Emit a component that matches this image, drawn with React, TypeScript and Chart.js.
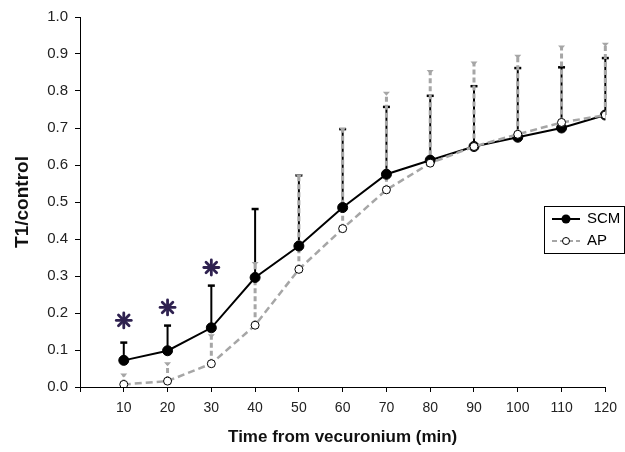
import React, { useEffect, useRef } from "react";
import { Chart, registerables } from "chart.js";

Chart.register(...registerables);

const times = [10, 20, 30, 40, 50, 60, 70, 80, 90, 100, 110, 120];
const scmMean = [0.072, 0.098, 0.16, 0.296, 0.381, 0.485, 0.575, 0.613, 0.65, 0.675, 0.7, 0.735];
const scmUpper = [0.12, 0.166, 0.274, 0.481, 0.572, 0.697, 0.757, 0.787, 0.813, 0.862, 0.864, 0.889];
const apMean = [0.007, 0.016, 0.063, 0.167, 0.318, 0.428, 0.533, 0.605, 0.65, 0.683, 0.715, 0.735];
const apUpper = [0.034, 0.064, 0.14, 0.335, 0.572, 0.698, 0.795, 0.854, 0.877, 0.895, 0.92, 0.928];
const asteriskTimes = [10, 20, 30];
const asteriskLevels = [0.18, 0.215, 0.323];
const seriesLabels = ["SCM", "AP"];

const FONT = "'Liberation Sans', Arial, sans-serif";
const GRAY = "#a6a6a6";
const STAR = "#2f2250";

const errorBarPlugin = {
  id: "errorBars",
  beforeDatasetsDraw(chart: any) {
    const { ctx, scales } = chart;
    const xs = scales.x;
    const ys = scales.y;
    ctx.save();
    ctx.strokeStyle = "#000";
    ctx.setLineDash([]);
    times.forEach((t, i) => {
      const x = xs.getPixelForValue(t);
      const y0 = ys.getPixelForValue(scmMean[i]);
      const y1 = ys.getPixelForValue(scmUpper[i]);
      ctx.lineWidth = 2;
      ctx.beginPath();
      ctx.moveTo(x, y0);
      ctx.lineTo(x, y1);
      ctx.stroke();
      ctx.lineWidth = 2.5;
      ctx.beginPath();
      ctx.moveTo(x - 3.5, y1);
      ctx.lineTo(x + 3.5, y1);
      ctx.stroke();
    });
    ctx.strokeStyle = GRAY;
    times.forEach((t, i) => {
      const x = xs.getPixelForValue(t);
      const y0 = ys.getPixelForValue(apMean[i]);
      const y1 = ys.getPixelForValue(apUpper[i]);
      ctx.lineWidth = 3;
      ctx.setLineDash([5, 3]);
      ctx.beginPath();
      ctx.moveTo(x, y0);
      ctx.lineTo(x, y1);
      ctx.stroke();
      ctx.setLineDash([]);
      ctx.fillStyle = GRAY;
      ctx.beginPath();
      ctx.moveTo(x - 3.5, y1 - 1);
      ctx.lineTo(x + 3.5, y1 - 1);
      ctx.lineTo(x, y1 + 3);
      ctx.closePath();
      ctx.fill();
    });
    ctx.restore();
  },
  afterDatasetsDraw(chart: any) {
    const { ctx, scales } = chart;
    ctx.save();
    ctx.strokeStyle = STAR;
    ctx.lineWidth = 2.8;
    ctx.lineCap = "round";
    asteriskTimes.forEach((t, i) => {
      const cx = scales.x.getPixelForValue(t);
      const cy = scales.y.getPixelForValue(asteriskLevels[i]);
      const r = 7.5;
      for (let k = 0; k < 4; k++) {
        const a = (k * Math.PI) / 4;
        ctx.beginPath();
        ctx.moveTo(cx - r * Math.cos(a), cy - r * Math.sin(a));
        ctx.lineTo(cx + r * Math.cos(a), cy + r * Math.sin(a));
        ctx.stroke();
      }
    });
    ctx.restore();
  },
  afterDraw(chart: any) {
    const { ctx } = chart;
    ctx.save();
    const bx = 544.5, by = 206.5, bw = 80, bh = 47;
    ctx.strokeStyle = "#000";
    ctx.lineWidth = 1;
    ctx.strokeRect(bx, by, bw, bh);
    const rows = [219, 241];
    ctx.font = `15px ${FONT}`;
    ctx.textBaseline = "middle";
    ctx.textAlign = "left";
    ctx.strokeStyle = "#000";
    ctx.lineWidth = 2;
    ctx.beginPath();
    ctx.moveTo(552, rows[0]);
    ctx.lineTo(580, rows[0]);
    ctx.stroke();
    ctx.fillStyle = "#000";
    ctx.beginPath();
    ctx.arc(566, rows[0], 4.5, 0, Math.PI * 2);
    ctx.fill();
    ctx.fillText(seriesLabels[0], 587, rows[0]);
    ctx.strokeStyle = GRAY;
    ctx.setLineDash([5, 3]);
    ctx.beginPath();
    ctx.moveTo(552, rows[1]);
    ctx.lineTo(580, rows[1]);
    ctx.stroke();
    ctx.setLineDash([]);
    ctx.fillStyle = "#fff";
    ctx.strokeStyle = "#000";
    ctx.lineWidth = 1;
    ctx.beginPath();
    ctx.arc(566, rows[1], 3.5, 0, Math.PI * 2);
    ctx.fill();
    ctx.stroke();
    ctx.fillStyle = "#000";
    ctx.fillText(seriesLabels[1], 587, rows[1]);
    ctx.restore();
  },
};

export default function App() {
  const ref = useRef<HTMLCanvasElement | null>(null);
  useEffect(() => {
    if (!ref.current) return;
    const chart = new Chart(ref.current, {
      type: "line",
      data: {
        datasets: [
          {
            label: seriesLabels[0],
            data: times.map((t, i) => ({ x: t, y: scmMean[i] })),
            borderColor: "#000",
            borderWidth: 2,
            backgroundColor: "#000",
            pointBackgroundColor: "#000",
            pointBorderColor: "#000",
            pointRadius: 5,
            pointBorderWidth: 1,
            tension: 0,
            order: 2,
          },
          {
            label: seriesLabels[1],
            data: times.map((t, i) => ({ x: t, y: apMean[i] })),
            borderColor: GRAY,
            borderWidth: 2.5,
            borderDash: [7, 4],
            backgroundColor: "#fff",
            pointBackgroundColor: "#fff",
            pointBorderColor: "#000",
            pointRadius: 4,
            pointBorderWidth: 1,
            tension: 0,
            order: 1,
          },
        ],
      },
      options: {
        animation: false,
        responsive: false,
        maintainAspectRatio: false,
        layout: { padding: { top: 17, right: 17, left: 0, bottom: 0 } },
        plugins: { legend: { display: false }, tooltip: { enabled: false } },
        scales: {
          x: {
            type: "linear",
            min: 0,
            max: 120,
            ticks: {
              stepSize: 10,
              color: "#222",
              font: { family: FONT, size: 14 },
              padding: 8,
              maxRotation: 0,
              autoSkip: false,
              callback: (v: any) => (v === 0 ? "" : String(v)),
            },
            grid: { drawOnChartArea: false, drawTicks: true, tickLength: 5, color: "#000" },
            border: { display: true, color: "#000", width: 1 },
            title: {
              display: true,
              text: "Time from vecuronium (min)",
              color: "#111",
              font: { family: FONT, size: 17, weight: "bold" },
              padding: { top: 0, bottom: 4 },
            },
            afterFit: (s: any) => {
              s.height = 65;
            },
          },
          y: {
            min: 0,
            max: 1,
            ticks: {
              stepSize: 0.1,
              color: "#222",
              font: { family: FONT, size: 15 },
              padding: 7,
              callback: (v: any) => Number(v).toFixed(1),
            },
            grid: { drawOnChartArea: false, drawTicks: true, tickLength: 5, color: "#000" },
            border: { display: true, color: "#000", width: 1 },
            title: {
              display: true,
              text: "T1/control",
              color: "#111",
              font: { family: FONT, size: 19, weight: "bold" },
              padding: { top: 11, bottom: 0 },
            },
            afterFit: (s: any) => {
              s.width = 80;
            },
          },
        },
      },
      plugins: [errorBarPlugin],
    } as any);
    return () => chart.destroy();
  }, []);
  return (
    <div style={{ position: "fixed", left: 0, top: 0, width: 625, height: 452, background: "#fff" }}>
      <canvas ref={ref} width={625} height={452} style={{ width: 625, height: 452 }} />
    </div>
  );
}
